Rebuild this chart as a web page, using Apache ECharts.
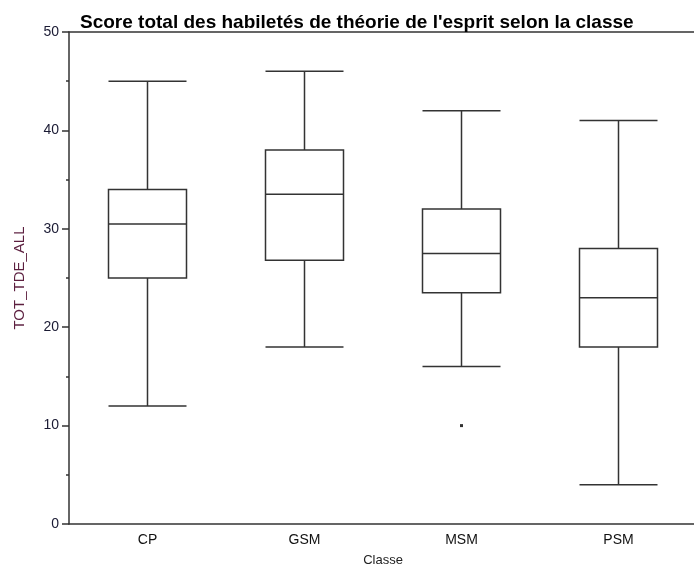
<!DOCTYPE html>
<html>
<head>
<meta charset="utf-8">
<script src="https://cdn.jsdelivr.net/npm/echarts@6/dist/echarts.min.js"></script>
<style>
  html, body { margin: 0; padding: 0; background: #fff; }
  #chart { width: 694px; height: 564px; }
</style>
</head>
<body>
<div id="chart"></div>
<script>
// categories
const classes = ['CP', 'GSM', 'MSM', 'PSM'];
// [min, Q1, median, Q3, max] per class
const boxCP  = [12, 25, 30.5, 34, 45];
const boxGSM = [18, 26.8, 33.5, 38, 46];
const boxMSM = [16, 23.5, 27.5, 32, 42];
const boxPSM = [4, 18, 23, 28, 41];
// outliers [class index, value]
const outliers = [[2, 10]];
// y axis ticks
const yMin = 0, yMax = 50, yStep = 10;

const lineColor = '#333';
const font = '"Liberation Sans", Arial, sans-serif';

const chart = echarts.init(document.getElementById('chart'));
const option = {
  animation: false,
  backgroundColor: '#fff',
  title: {
    text: "Score total des habiletés de théorie de l'esprit selon la classe",
    left: 75,
    top: 8,
    textStyle: { fontFamily: font, fontSize: 19, fontWeight: 'bold', color: '#000' }
  },
  grid: { left: 69, top: 32, width: 628, height: 492, containLabel: false, outerBoundsMode: 'none' },
  xAxis: [{
    type: 'category',
    data: classes,
    name: 'Classe',
    nameLocation: 'middle',
    nameGap: 30,
    nameTextStyle: { fontFamily: font, fontSize: 13, color: '#222' },
    axisLine: { lineStyle: { color: lineColor, width: 1.5 } },
    axisTick: { show: false },
    axisLabel: { fontFamily: font, fontSize: 14, color: '#111', margin: 9 },
    splitLine: { show: false }
  }, {
    type: 'category',
    data: classes,
    position: 'top',
    axisLine: { lineStyle: { color: lineColor, width: 1.5 } },
    axisTick: { show: false },
    axisLabel: { show: false },
    splitLine: { show: false }
  }],
  yAxis: {
    type: 'value',
    min: yMin,
    max: yMax,
    interval: yStep,
    name: 'TOT_TDE_ALL',
    nameLocation: 'middle',
    nameGap: 42,
    nameTextStyle: { fontFamily: font, fontSize: 15, color: '#5c1f3f' },
    axisLine: { show: true, lineStyle: { color: lineColor, width: 1.5 } },
    axisTick: { show: true, length: 7, lineStyle: { color: lineColor, width: 1.5 } },
    minorTick: { show: true, splitNumber: 2, length: 3, lineStyle: { color: lineColor, width: 1.5 } },
    axisLabel: { fontFamily: font, fontSize: 14, color: '#1a1a33', margin: 10 },
    splitLine: { show: false }
  },
  series: [{
    type: 'boxplot',
    data: [boxCP, boxGSM, boxMSM, boxPSM],
    boxWidth: [78, 78],
    itemStyle: { color: '#fff', borderColor: lineColor, borderWidth: 1.5 },
    emphasis: { disabled: true }
  }, {
    type: 'scatter',
    data: outliers,
    symbol: 'rect',
    symbolSize: 3,
    itemStyle: { color: '#000' }
  }]
};
chart.setOption(option);
</script>
</body>
</html>
